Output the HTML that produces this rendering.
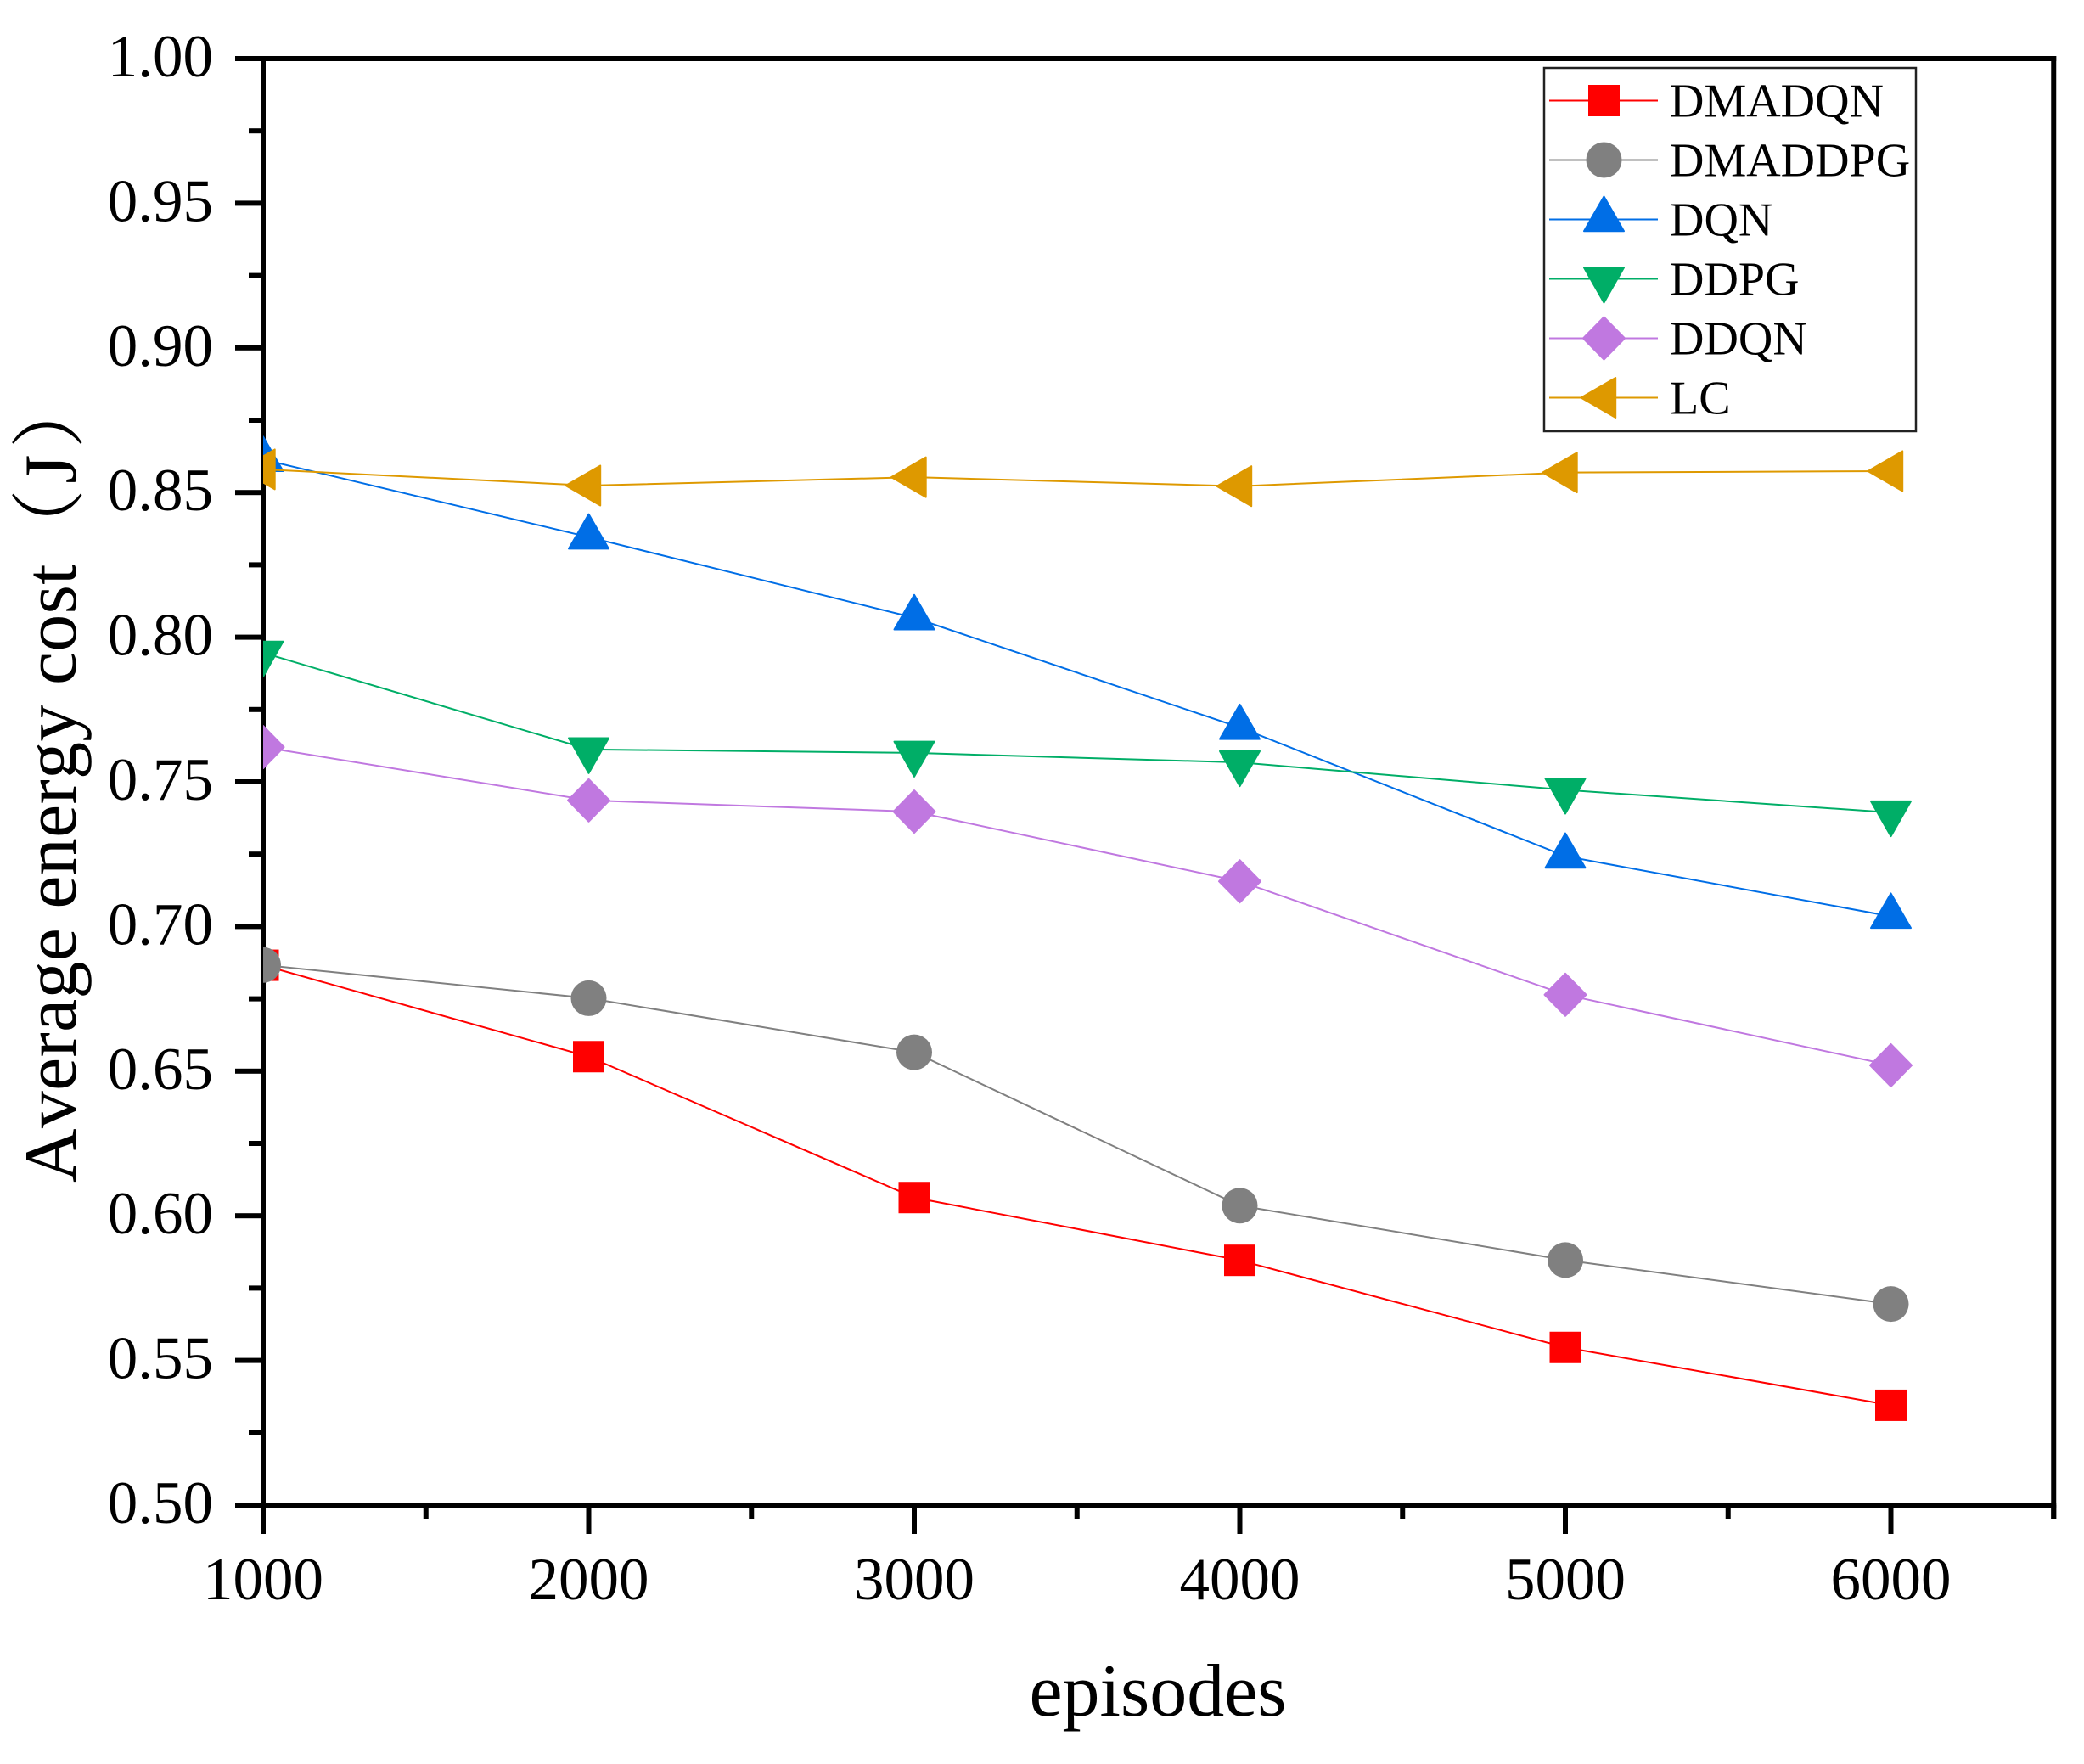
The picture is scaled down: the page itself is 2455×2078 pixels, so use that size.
<!DOCTYPE html>
<html lang="en">
<head>
<meta charset="utf-8">
<title>Average energy cost vs episodes</title>
<style>
  html, body { margin: 0; padding: 0; background: #ffffff; }
  svg { display: block; }
  text { font-family: "Liberation Serif", "Noto Serif CJK SC", serif; fill: #000; }
</style>
</head>
<body>
<svg id="chart" xmlns="http://www.w3.org/2000/svg" width="2455" height="2078" viewBox="0 0 2455 2078">
  <rect x="0" y="0" width="2455" height="2078" fill="#ffffff"/>
  <defs>
    <clipPath id="plot-clip"><rect x="310" y="69" width="2110" height="1704"/></clipPath>
  </defs>
  <g id="axes"></g>
  <g id="series" clip-path="url(#plot-clip)"></g>
  <g id="legend"></g>
  <text x="1364" y="2021" font-size="88" text-anchor="middle">episodes</text>
  <text transform="translate(89 1393) rotate(-90)" font-size="88" letter-spacing="0.3" style="font-kerning:none">Average energy cost（<tspan dx="6">J</tspan><tspan dx="7">）</tspan></text>
</svg>
<script>
// ---- chart data ----
const episodes = [1000, 2000, 3000, 4000, 5000, 6000];
const dmadqn   = [0.6866, 0.6550, 0.6063, 0.5846, 0.5545, 0.5345];
const dmaddpg  = [0.6867, 0.6752, 0.6565, 0.6035, 0.5847, 0.5695];
const dqn      = [0.8614, 0.8346, 0.8067, 0.7688, 0.7243, 0.7035];
const ddpg     = [0.7946, 0.7612, 0.7600, 0.7567, 0.7472, 0.7394];
const ddqn     = [0.7620, 0.7436, 0.7397, 0.7156, 0.6764, 0.6520];
const lc       = [0.8580, 0.8524, 0.8553, 0.8522, 0.8569, 0.8574];
const yTickLabels = ["0.50","0.55","0.60","0.65","0.70","0.75","0.80","0.85","0.90","0.95","1.00"];
const yMinorTicks = [0.525,0.575,0.625,0.675,0.725,0.775,0.825,0.875,0.925,0.975];
const xTickLabels = ["1000","2000","3000","4000","5000","6000"];
const xMinorTicks = [1500,2500,3500,4500,5500,6500];
const seriesNames = ["DMADQN","DMADDPG","DQN","DDPG","DDQN","LC"];
const seriesValues = [dmadqn, dmaddpg, dqn, ddpg, ddqn, lc];
const seriesColors = ["#ff0000","#808080","#006ee6","#00ae67","#c078e0","#de9900"];
const seriesShapes = ["square","circle","up","down","diamond","left"];

// ---- axis functions ----
const X0 = 310, X_PER_UNIT = 383.5 / 1000, Y_TOP = 69, Y_PER_UNIT = 3408;
function xScale(v) { return X0 + (v - 1000) * X_PER_UNIT; }
function yScale(v) { return Y_TOP + (1 - v) * Y_PER_UNIT; }

const NS = "http://www.w3.org/2000/svg";
function make(parent, tag, attrs) {
  const el = document.createElementNS(NS, tag);
  for (const k in attrs) el.setAttribute(k, attrs[k]);
  parent.appendChild(el);
  return el;
}

function drawMarker(parent, shape, cx, cy, color) {
  const common = { fill: color, stroke: color, "stroke-width": 2, "stroke-linejoin": "round" };
  let pts = null;
  if (shape === "square") {
    return make(parent, "rect", { x: cx - 18.5, y: cy - 18.5, width: 37, height: 37, fill: color });
  }
  if (shape === "circle") {
    return make(parent, "circle", { cx: cx, cy: cy, r: 21, fill: color });
  }
  if (shape === "up") pts = [[cx, cy - 27], [cx + 23.5, cy + 13.7], [cx - 23.5, cy + 13.7]];
  if (shape === "down") pts = [[cx, cy + 28], [cx + 23.5, cy - 13.3], [cx - 23.5, cy - 13.3]];
  if (shape === "left") pts = [[cx - 27, cy], [cx + 13.7, cy - 23.5], [cx + 13.7, cy + 23.5]];
  if (shape === "diamond") pts = [[cx, cy - 25], [cx + 24.5, cy], [cx, cy + 25], [cx - 24.5, cy]];
  const attrs = Object.assign({ points: pts.map(p => p.join(",")).join(" ") }, common);
  return make(parent, "polygon", attrs);
}

// ---- axes ----
const axes = document.getElementById("axes");
const Y_BOTTOM = yScale(0.5), X_RIGHT = xScale(6500);

const spineLeft = make(axes, "rect", { x: X0 - 3, y: Y_TOP - 3, width: 6, height: Y_BOTTOM - Y_TOP + 37, fill: "#000" });


const spineBottom = make(axes, "rect", { x: 277, y: Y_BOTTOM - 3, width: X_RIGHT + 3 - 277, height: 6, fill: "#000" });


const spineTop = make(axes, "rect", { x: 277, y: Y_TOP - 3, width: X_RIGHT + 3 - 277, height: 6, fill: "#000" });


const spineRight = make(axes, "rect", { x: X_RIGHT - 3, y: Y_TOP - 3, width: 6, height: Y_BOTTOM - Y_TOP + 19, fill: "#000" });



yTickLabels.forEach(function (label) {
  const v = parseFloat(label), y = yScale(v);
  const tick = make(axes, "rect", { x: 277, y: y - 3, width: 32, height: 6, fill: "#000" });
  
  
  const t = make(axes, "text", { x: 251, y: y + 21, "font-size": 71, "text-anchor": "end" });
  t.textContent = label;
  
  
});
yMinorTicks.forEach(function (v) {
  const tick = make(axes, "rect", { x: 293, y: yScale(v) - 3, width: 16, height: 6, fill: "#000" });
  
  
});
xTickLabels.forEach(function (label) {
  const x = xScale(parseFloat(label));
  const tick = make(axes, "rect", { x: x - 3, y: Y_BOTTOM, width: 6, height: 34, fill: "#000" });
  
  
  const t = make(axes, "text", { x: x, y: 1884, "font-size": 71, "text-anchor": "middle" });
  t.textContent = label;
  
  
});
xMinorTicks.forEach(function (v) {
  const tick = make(axes, "rect", { x: xScale(v) - 3, y: Y_BOTTOM, width: 6, height: 16, fill: "#000" });
  
  
});

// ---- series ----
const seriesGroup = document.getElementById("series");
seriesNames.forEach(function (name, i) {
  const values = seriesValues[i], color = seriesColors[i], shape = seriesShapes[i];
  const g = make(seriesGroup, "g", {});
  
  
  const pts = values.map(function (v, j) { return xScale(episodes[j]) + "," + yScale(v); }).join(" ");
  const line = make(g, "polyline", { points: pts, fill: "none", stroke: color, "stroke-width": 2 });
  
  
  values.forEach(function (v, j) {
    const m = drawMarker(g, shape, xScale(episodes[j]), yScale(v), color);
    
    
  });
});

// ---- legend ----
const legend = document.getElementById("legend");
const legendBox = make(legend, "rect", { x: 1819, y: 80, width: 438, height: 428, fill: "#ffffff", stroke: "#222222", "stroke-width": 2.5 });


seriesNames.forEach(function (name, i) {
  const rowY = 118.5 + i * 70;
  const g = make(legend, "g", {});
  
  
  const line = make(g, "line", { x1: 1825, x2: 1953, y1: rowY, y2: rowY, stroke: seriesColors[i], "stroke-width": 2 });
  
  
  const m = drawMarker(g, seriesShapes[i], 1889.5, rowY, seriesColors[i]);
  
  
  const t = make(g, "text", { x: 1967, y: rowY + 19, "font-size": 56 });
  t.textContent = name;
  
  
});
</script>
</body>
</html>
